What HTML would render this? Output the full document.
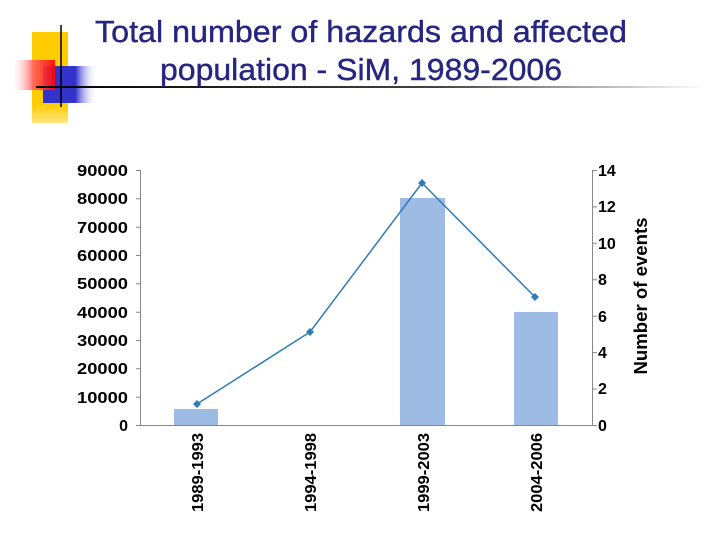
<!DOCTYPE html>
<html><head><meta charset="utf-8"><style>
body{margin:0;background:#fff;}
svg{display:block;font-family:"Liberation Sans",Arial,sans-serif;}
</style></head><body>
<svg width="720" height="540" viewBox="0 0 720 540" xmlns="http://www.w3.org/2000/svg">
<defs>
<linearGradient id="hl" x1="0" x2="1"><stop offset="0" stop-color="#000"/><stop offset="0.6" stop-color="#444"/><stop offset="1" stop-color="#fff"/></linearGradient>
<linearGradient id="red" x1="0" x2="1"><stop offset="0" stop-color="#fff" stop-opacity="0"/><stop offset="0.5" stop-color="#f66"/><stop offset="1" stop-color="#f00"/></linearGradient>
<linearGradient id="blue" x1="0" x2="1"><stop offset="0" stop-color="#3333cc"/><stop offset="0.6" stop-color="#3333cc"/><stop offset="1" stop-color="#fff" stop-opacity="0"/></linearGradient>
<linearGradient id="yel" x1="0" y1="0" x2="0" y2="1"><stop offset="0" stop-color="#ffcc00"/><stop offset="0.8" stop-color="#ffcc00"/><stop offset="1" stop-color="#ffe680"/></linearGradient>
</defs>
<rect x="32" y="32" width="36" height="91" fill="url(#yel)"/>
<rect x="43" y="66" width="54" height="37" fill="url(#blue)"/>
<rect x="10" y="60" width="45" height="30" fill="url(#red)" opacity="0.9"/>
<line x1="61" y1="25" x2="61" y2="107" stroke="#000" stroke-width="1.5"/>
<rect x="36" y="86" width="670" height="2" fill="url(#hl)"/>
<g fill="#262680" font-size="31" stroke="#262680" stroke-width="0.4">
<text x="361" y="42" text-anchor="middle" textLength="532" lengthAdjust="spacingAndGlyphs">Total number of hazards and affected</text>
<text x="361" y="80" text-anchor="middle" textLength="402" lengthAdjust="spacingAndGlyphs">population - SiM, 1989-2006</text>
</g>
<g fill="#9dbbe3">
<rect x="174" y="409" width="44" height="16"/>
<rect x="400" y="198" width="45" height="227"/>
<rect x="514" y="312" width="44" height="113"/>
</g>
<g stroke="#888" stroke-width="1" fill="none">
<path d="M140.5 170V425.5H592.5V170"/>
<path d="M136 170.5h4.5M136 198.8h4.5M136 227.2h4.5M136 255.5h4.5M136 283.8h4.5M136 312.2h4.5M136 340.5h4.5M136 368.8h4.5M136 397.2h4.5M136 425.5h4.5"/>
<path d="M592.5 170.5h4.5M592.5 206.9h4.5M592.5 243.3h4.5M592.5 279.8h4.5M592.5 316.2h4.5M592.5 352.6h4.5M592.5 389h4.5M592.5 425.5h4.5"/>
</g>
<g font-size="16" font-weight="bold" fill="#000" text-anchor="end">
<text x="128" y="176" textLength="51" lengthAdjust="spacingAndGlyphs">90000</text><text x="128" y="204" textLength="51" lengthAdjust="spacingAndGlyphs">80000</text><text x="128" y="233" textLength="51" lengthAdjust="spacingAndGlyphs">70000</text><text x="128" y="261" textLength="51" lengthAdjust="spacingAndGlyphs">60000</text><text x="128" y="289" textLength="51" lengthAdjust="spacingAndGlyphs">50000</text><text x="128" y="318" textLength="51" lengthAdjust="spacingAndGlyphs">40000</text><text x="128" y="346" textLength="51" lengthAdjust="spacingAndGlyphs">30000</text><text x="128" y="374" textLength="51" lengthAdjust="spacingAndGlyphs">20000</text><text x="128" y="403" textLength="51" lengthAdjust="spacingAndGlyphs">10000</text><text x="128" y="431">0</text>
</g>
<g font-size="16" font-weight="bold" fill="#000">
<text x="598" y="176">14</text><text x="598" y="212">12</text><text x="598" y="249">10</text><text x="598" y="285">8</text><text x="598" y="322">6</text><text x="598" y="358">4</text><text x="598" y="394">2</text><text x="598" y="431">0</text>
</g>
<g font-size="16" font-weight="bold" fill="#000" text-anchor="end">
<text transform="translate(203,433) rotate(-90)" textLength="79" lengthAdjust="spacingAndGlyphs">1989-1993</text>
<text transform="translate(316,433) rotate(-90)" textLength="79" lengthAdjust="spacingAndGlyphs">1994-1998</text>
<text transform="translate(429,433) rotate(-90)" textLength="79" lengthAdjust="spacingAndGlyphs">1999-2003</text>
<text transform="translate(542,433) rotate(-90)" textLength="79" lengthAdjust="spacingAndGlyphs">2004-2006</text>
</g>
<text transform="translate(647,296) rotate(-90)" font-size="18" font-weight="bold" text-anchor="middle" textLength="157" lengthAdjust="spacingAndGlyphs">Number of events</text>
<polyline points="197,404 310,332 422,183 535,297" fill="none" stroke="#2f7ab8" stroke-width="1.5"/>
<g fill="#2f7ab8">
<path d="M197 400l4 4-4 4-4-4z"/><path d="M310 328l4 4-4 4-4-4z"/><path d="M422 179l4 4-4 4-4-4z"/><path d="M535 293l4 4-4 4-4-4z"/>
</g>
</svg>
</body></html>
